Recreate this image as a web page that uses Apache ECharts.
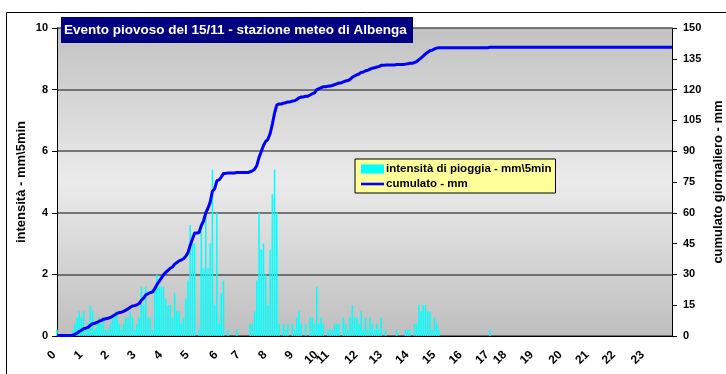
<!DOCTYPE html>
<html>
<head>
<meta charset="utf-8">
<script src="https://cdn.jsdelivr.net/npm/echarts@6/dist/echarts.min.js"></script>
<style>
  html, body { margin: 0; padding: 0; background: #ffffff; }
  #chart { width: 726px; height: 374px; }
</style>
</head>
<body>
<div id="chart"></div>
<script>
// Rain gauge record, one row every 5 minutes (some rows missing in the log)
const hourLabels = ['0','1','2','3','4','5','6','7','8','9','10','11','12','13','14','15','16','17','18','19','20','21','22','23'];
// first log row of each hour
const hourStartRow = [0,12,24,36,48,60,73,83,95,107,118,123,136,147,159,171,183,195,203,215,228,240,252,265];

// intensity, mm per 5 min, grouped by hour
const rain00 = [0.2,0,0,0,0,0,0,0.2,0.4,0.6,0.8,0.6];
const rain01 = [0.8,0.2,0.4,1.0,0.8,0.2,0.4,0.6,0.4,0.6,0.2,0.2];
const rain02 = [0.4,0.6,0.6,0.8,0.4,0.2,0.4,0.6,0.6,0.8,0.6,0.2];
const rain03 = [0.4,0.6,1.6,1.0,1.6,0.6,0.6,0.2,1.6,2.0,1.6,1.6];
const rain04 = [1.6,1.2,1.0,1.0,0.6,1.4,0.8,0.8,0.4,0.6,1.2,1.8];
const rain05 = [3.6,3.0,3.0,0,0.2,3.4,2.2,4.0,2.2,3.0,5.4,1.0,4.0];
const rain06 = [0.4,1.4,1.8,0,0.2,0,0,0,0.2,0];
const rain07 = [0,0,0,0,0.4,0.4,0.8,1.8,4.0,2.8,3.0,2.0];
const rain08 = [1.0,2.8,4.6,5.4,4.0,0.4,0,0.4,0.2,0.4,0,0.4];
const rain09 = [0.2,0.6,0.8,0.4,0,0.4,0,0.6,0.6,0.4,1.6];
const rain10 = [0.4,0.6,0.4,0,0.2];
const rain11 = [0.2,0.2,0.4,0.4,0.4,0,0.6,0.4,0.2,0.6,1.0,0.6,0.6];
const rain12 = [0.4,0.8,0.2,0.6,0.2,0.6,0.4,0.2,0.4,0.2,0.6];
const rain13 = [0,0.2,0,0,0,0,0.2,0,0,0,0.2,0.2];
const rain14 = [0.2,0,0.4,0.4,1.0,0.8,1.0,1.0,0.8,0.8,0.2,0.6];
const rain15 = [0.4,0.2,0,0,0,0,0,0,0,0,0,0];
const rain16 = [0,0,0,0,0,0,0,0,0,0,0,0];
const rain17 = [0.2,0,0,0,0,0,0,0];
const rain18 = [0,0,0,0,0,0,0,0,0,0,0,0];
const rain19 = [0,0,0,0,0,0,0,0,0,0,0,0,0];
const rain20 = [0,0,0,0,0,0,0,0,0,0,0,0];
const rain21 = [0,0,0,0,0,0,0,0,0,0,0,0];
const rain22 = [0,0,0,0,0,0,0,0,0,0,0,0,0];
const rain23 = [0,0,0,0,0,0,0,0,0,0,0,0,0];

const intensity = [].concat(rain00, rain01, rain02, rain03, rain04, rain05, rain06, rain07,
  rain08, rain09, rain10, rain11, rain12, rain13, rain14, rain15, rain16, rain17,
  rain18, rain19, rain20, rain21, rain22, rain23);

// daily running total, mm
const cumulato = [];
intensity.reduce((acc, v) => { const t = Math.round((acc + v) * 10) / 10; cumulato.push(t); return t; }, 0);

const rows = intensity.map((_, i) => String(i));

const FONT = "'Liberation Sans', Arial, sans-serif";
const chart = echarts.init(document.getElementById('chart'), null, { renderer: 'canvas' });

chart.setOption({
  animation: false,
  backgroundColor: '#ffffff',
  grid: {
    left: 57, right: 54, top: 28, bottom: 38,
    containLabel: false,
    outerBoundsMode: 'none',
    show: true,
    borderWidth: 0,
    backgroundColor: new echarts.graphic.LinearGradient(0, 0, 0, 1, [
      { offset: 0, color: '#c2c2c2' },
      { offset: 0.5, color: '#ebebeb' },
      { offset: 1, color: '#bebebe' }
    ])
  },
  legend: {
    left: 355, top: 159,
    orient: 'vertical',
    backgroundColor: '#ffff99',
    borderColor: '#000000',
    borderWidth: 1,
    borderRadius: 0,
    padding: [4, 4, 3, 6],
    itemWidth: 23, itemHeight: 9, itemGap: 3,
    textStyle: { fontFamily: FONT, fontWeight: 'bold', fontSize: 11.5, color: '#000', padding: [0, 0, 0, -3] },
    data: [
      { name: 'intensità di pioggia - mm\\5min', icon: 'rect' },
      { name: 'cumulato - mm', icon: 'path://M0,0 L23,0 L23,2.6 L0,2.6 Z' }
    ]
  },
  xAxis: {
    type: 'category',
    data: rows,
    boundaryGap: false,
    axisLine: { show: true, lineStyle: { color: '#000', width: 1 } },
    axisTick: { show: false },
    splitLine: { show: false },
    axisLabel: {
      rotate: 45,
      margin: 14,
      padding: [0, 4, 0, 0],
      fontFamily: FONT, fontWeight: 'bold', fontSize: 12, color: '#000',
      interval: (i) => hourStartRow.indexOf(i) >= 0,
      formatter: (v, i) => hourLabels[hourStartRow.indexOf(i)]
    }
  },
  yAxis: [
    {
      type: 'value', min: 0, max: 10, interval: 2,
      position: 'left',
      name: 'intensità - mm\\5min',
      nameLocation: 'middle', nameRotate: 90, nameGap: 29,
      nameMoveOverlap: false,
      nameTextStyle: { fontFamily: FONT, fontWeight: 'bold', fontSize: 13, color: '#000' },
      axisLine: { show: true, lineStyle: { color: '#000', width: 1 } },
      axisTick: { show: true, length: 5, lineStyle: { color: '#000' } },
      axisLabel: { fontFamily: FONT, fontWeight: 'bold', fontSize: 11, color: '#000', margin: 9 },
      splitLine: { show: true, lineStyle: { color: '#505050', width: 1.5 } }
    },
    {
      type: 'value', min: 0, max: 150, interval: 15,
      position: 'right',
      name: 'cumulato giornaliero - mm',
      nameLocation: 'middle', nameRotate: 90, nameGap: 40,
      nameTextStyle: { fontFamily: FONT, fontWeight: 'bold', fontSize: 13, color: '#000' },
      axisLine: { show: true, lineStyle: { color: '#000', width: 1 } },
      axisTick: { show: true, length: 5, lineStyle: { color: '#000' } },
      axisLabel: { fontFamily: FONT, fontWeight: 'bold', fontSize: 11, color: '#000', margin: 11 },
      splitLine: { show: false }
    }
  ],
  series: [
    {
      name: 'intensità di pioggia - mm\\5min',
      type: 'bar',
      yAxisIndex: 0,
      data: intensity,
      barWidth: '70%',
      itemStyle: { color: '#00ffff' },
      z: 2
    },
    {
      name: 'cumulato - mm',
      type: 'line',
      yAxisIndex: 1,
      data: cumulato,
      symbol: 'none',
      lineStyle: { color: '#0000ff', width: 3 },
      itemStyle: { color: '#0000ff' },
      z: 3
    }
  ],
  graphic: [
    {
      type: 'polyline', silent: true,
      shape: { points: [[6.5, 380], [6.5, 12.5], [730, 12.5]] },
      style: { stroke: '#000', lineWidth: 1, fill: null }
    },
    {
      type: 'rect', silent: true, z: 10,
      shape: { x: 61, y: 17, width: 352, height: 26 },
      style: { fill: '#000080' }
    },
    {
      type: 'text', silent: true, z: 11,
      x: 64, y: 30,
      style: {
        text: 'Evento piovoso del 15/11 - stazione meteo di Albenga',
        fill: '#ffffff',
        font: "bold 13.5px 'Liberation Sans', Arial, sans-serif",
        verticalAlign: 'middle'
      }
    }
  ]
});
</script>
</body>
</html>
